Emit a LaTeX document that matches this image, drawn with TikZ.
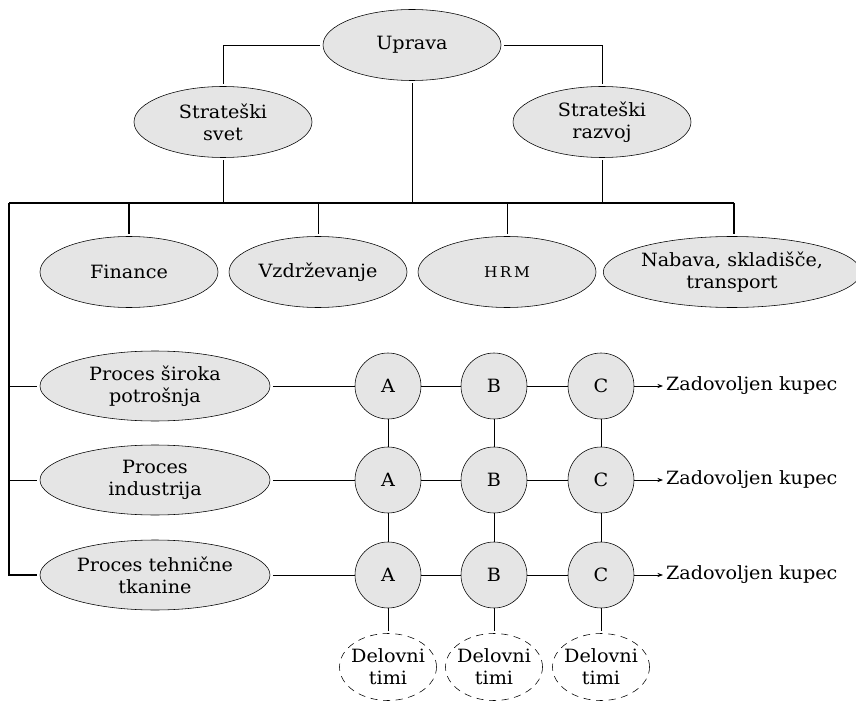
\documentclass[tikz,border=0pt]{standalone}
\usepackage{fontspec}
\setmainfont{DejaVu Serif}[FakeStretch=1.05]
\usepackage{tikz}
\usetikzlibrary{shapes.geometric, arrows.meta, positioning, calc}

\newcommand{\pix}{0.025cm}

\begin{document}
\begin{tikzpicture}[
    x=\pix, y=-\pix,
    font=\fontsize{13}{15.6}\selectfont,
    unit/.style={ellipse, draw=black, fill=gray!20, inner sep=0pt, outer sep=2pt, minimum width=178*\pix, minimum height=71*\pix, align=center},
    proc/.style={unit, minimum width=230*\pix, minimum height=70*\pix},
    team/.style={circle, draw=black, fill=gray!20, inner sep=0pt, minimum size=66*\pix},
    crew/.style={ellipse, draw=black, dash pattern=on 5pt off 4pt, inner xsep=-4pt, inner ysep=0pt, outer sep=2pt, minimum width=97*\pix, minimum height=67*\pix, align=center},
    line/.style={draw=black, line width=0.6pt},
    bus/.style={draw=black, line width=1pt},
    arrow/.style={line, -{Stealth[length=4pt, width=3pt]}},
]
    \useasboundingbox (0,0) rectangle (856,702);

    % vodstvo
    \node (uprava) [unit] at (412,45) {Uprava};
    \node (svet) [unit] at (223,122) {Strateški\\svet};
    \node (razvoj) [unit] at (602,122) {Strateški\\razvoj};

    % podporne funkcije
    \node (finance) [unit] at (129,272) {Finance};
    \node (vzdr) [unit] at (318,272) {Vzdrževanje};
    \node (hrm) [unit] at (507,272) {{\fontsize{10.5}{11}\selectfont H\,R\,M}};
    \node (nabava) [unit, minimum width=246*\pix] at (732,272) {Nabava, skladišče,\\transport};

    % procesi
    \node (p1) [proc] at (155,386) {Proces široka\\potrošnja};
    \node (p2) [proc] at (155,480) {Proces\\industrija};
    \node (p3) [proc] at (155,575) {Proces tehnične\\tkanine};

    \foreach \r/\y in {1/386, 2/480, 3/575} {
        \node (a\r) [team] at (388,\y) {A};
        \node (b\r) [team] at (494,\y) {B};
        \node (c\r) [team] at (601,\y) {C};
        \node (kupec\r) [anchor=west, inner sep=2pt] at (663,\y) {Zadovoljen kupec};
    }

    \node (timiA) [crew] at (388,667) {Delovni\\timi};
    \node (timiB) [crew] at (494,667) {Delovni\\timi};
    \node (timiC) [crew] at (601,667) {Delovni\\timi};

    \coordinate (busL) at (9,203);
    \coordinate (busR) at (734,203);

    \draw [line] (uprava.west) -| (svet.north);
    \draw [line] (uprava.east) -| (razvoj.north);
    \draw [line] (uprava.south) -- (uprava.south |- busL);
    \draw [line] (svet.south) -- (svet.south |- busL);
    \draw [line] (razvoj.south) -- (razvoj.south |- busL);

    \draw [bus] (busL) -- (busR);
    \draw [bus] (busR) -- (busR |- nabava.north);
    \draw [bus] (finance.north |- busL) -- (finance.north);
    \draw [line] (vzdr.north |- busL) -- (vzdr.north);
    \draw [line] (hrm.north |- busL) -- (hrm.north);
    \draw [bus] (busL) |- (p3.west);
    \draw [line] (p1.west -| busL) -- (p1.west);
    \draw [line] (p2.west -| busL) -- (p2.west);

    \foreach \r in {1,2,3} {
        \draw [line] (p\r) -- (a\r);
        \draw [line] (a\r) -- (b\r);
        \draw [line] (b\r) -- (c\r);
        \draw [arrow] (c\r) -- (kupec\r);
    }
    \foreach \c in {a,b,c} {
        \draw [line] (\c1) -- (\c2);
        \draw [line] (\c2) -- (\c3);
    }
    \draw [line] (a3) -- (timiA);
    \draw [line] (b3) -- (timiB);
    \draw [line] (c3) -- (timiC);

\end{tikzpicture}
\end{document}
